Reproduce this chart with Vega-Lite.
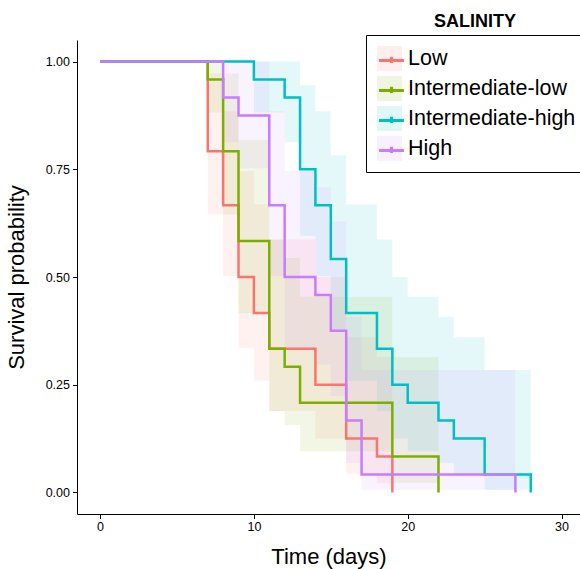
{
  "$schema": "https://vega.github.io/schema/vega-lite/v6.json",
  "width": 503,
  "height": 474,
  "autosize": {"type": "none"},
  "padding": {"left": 77, "top": 40, "right": 0, "bottom": 55},
  "background": "white",
  "config": {
    "view": {"stroke": null},
    "font": "Liberation Sans",
    "axis": {"grid": false}
  },
  "title": {
    "text": "SALINITY",
    "anchor": "start",
    "frame": "group",
    "dx": 357,
    "offset": 4,
    "fontSize": 18,
    "fontWeight": "bold",
    "font": "Liberation Sans",
    "color": "black"
  },
  "data": {
    "values": [
      {"group": "Low", "time": 0, "surv": 1, "lower": 1, "upper": 1},
      {"group": "Low", "time": 7, "surv": 0.7917, "lower": 0.6448, "upper": 0.972},
      {"group": "Low", "time": 8, "surv": 0.6667, "lower": 0.5024, "upper": 0.8847},
      {"group": "Low", "time": 9, "surv": 0.5, "lower": 0.3351, "upper": 0.746},
      {"group": "Low", "time": 10, "surv": 0.4167, "lower": 0.2595, "upper": 0.6689},
      {"group": "Low", "time": 11, "surv": 0.3333, "lower": 0.1893, "upper": 0.587},
      {"group": "Low", "time": 14, "surv": 0.25, "lower": 0.125, "upper": 0.4999},
      {"group": "Low", "time": 16, "surv": 0.125, "lower": 0.0434, "upper": 0.3603},
      {"group": "Low", "time": 18, "surv": 0.0833, "lower": 0.0221, "upper": 0.3141},
      {"group": "Low", "time": 19, "surv": 0, "lower": 0.0221, "upper": 0.3141},
      {"group": "Intermediate-low", "time": 0, "surv": 1, "lower": 1, "upper": 1},
      {"group": "Intermediate-low", "time": 7, "surv": 0.9583, "lower": 0.8816, "upper": 1},
      {"group": "Intermediate-low", "time": 8, "surv": 0.7917, "lower": 0.6448, "upper": 0.972},
      {"group": "Intermediate-low", "time": 9, "surv": 0.5833, "lower": 0.416, "upper": 0.818},
      {"group": "Intermediate-low", "time": 11, "surv": 0.3333, "lower": 0.1893, "upper": 0.587},
      {"group": "Intermediate-low", "time": 12, "surv": 0.2917, "lower": 0.1564, "upper": 0.544},
      {"group": "Intermediate-low", "time": 13, "surv": 0.2083, "lower": 0.0955, "upper": 0.4544},
      {"group": "Intermediate-low", "time": 19, "surv": 0.0833, "lower": 0.0221, "upper": 0.3141},
      {"group": "Intermediate-low", "time": 22, "surv": 0, "lower": 0.0221, "upper": 0.3141},
      {"group": "Intermediate-high", "time": 0, "surv": 1, "lower": 1, "upper": 1},
      {"group": "Intermediate-high", "time": 10, "surv": 0.9583, "lower": 0.8816, "upper": 1},
      {"group": "Intermediate-high", "time": 12, "surv": 0.9167, "lower": 0.8125, "upper": 1},
      {"group": "Intermediate-high", "time": 13, "surv": 0.75, "lower": 0.5953, "upper": 0.9449},
      {"group": "Intermediate-high", "time": 14, "surv": 0.6667, "lower": 0.5024, "upper": 0.8847},
      {"group": "Intermediate-high", "time": 15, "surv": 0.5417, "lower": 0.3749, "upper": 0.7826},
      {"group": "Intermediate-high", "time": 16, "surv": 0.4167, "lower": 0.2595, "upper": 0.6689},
      {"group": "Intermediate-high", "time": 18, "surv": 0.3333, "lower": 0.1893, "upper": 0.587},
      {"group": "Intermediate-high", "time": 19, "surv": 0.25, "lower": 0.125, "upper": 0.4999},
      {"group": "Intermediate-high", "time": 20, "surv": 0.2083, "lower": 0.0955, "upper": 0.4544},
      {"group": "Intermediate-high", "time": 22, "surv": 0.1667, "lower": 0.0681, "upper": 0.4077},
      {"group": "Intermediate-high", "time": 23, "surv": 0.125, "lower": 0.0434, "upper": 0.3603},
      {"group": "Intermediate-high", "time": 25, "surv": 0.0417, "lower": 0.0061, "upper": 0.2839},
      {"group": "Intermediate-high", "time": 28, "surv": 0, "lower": 0.0061, "upper": 0.2839},
      {"group": "High", "time": 0, "surv": 1, "lower": 1, "upper": 1},
      {"group": "High", "time": 8, "surv": 0.9167, "lower": 0.8125, "upper": 1},
      {"group": "High", "time": 9, "surv": 0.875, "lower": 0.7522, "upper": 1},
      {"group": "High", "time": 11, "surv": 0.6667, "lower": 0.5024, "upper": 0.8847},
      {"group": "High", "time": 12, "surv": 0.5, "lower": 0.3351, "upper": 0.746},
      {"group": "High", "time": 14, "surv": 0.4583, "lower": 0.2967, "upper": 0.7081},
      {"group": "High", "time": 15, "surv": 0.375, "lower": 0.2237, "upper": 0.6286},
      {"group": "High", "time": 16, "surv": 0.1667, "lower": 0.0681, "upper": 0.4077},
      {"group": "High", "time": 17, "surv": 0.0417, "lower": 0.0061, "upper": 0.2839},
      {"group": "High", "time": 27, "surv": 0, "lower": 0.0061, "upper": 0.2839}
    ]
  },
  "layer": [
    {
      "mark": {"type": "area", "interpolate": "step-after", "fillOpacity": 0.1, "strokeWidth": 0},
      "encoding": {
        "x": {
          "field": "time", "type": "quantitative",
          "scale": {"domain": [-1.5, 31.2], "nice": false, "zero": false},
          "axis": {
            "values": [0, 10, 20, 30],
            "title": "Time (days)",
            "titleFontSize": 22, "titleFontWeight": "normal", "titleColor": "black", "titlePadding": 13,
            "labelFontSize": 12.5, "labelColor": "black", "labelPadding": 2,
            "tickColor": "black", "tickSize": 4.5, "domainColor": "black", "domainWidth": 1, "tickWidth": 1
          }
        },
        "y": {
          "field": "lower", "type": "quantitative",
          "scale": {"domain": [-0.05, 1.05], "nice": false, "zero": false},
          "axis": {
            "values": [0, 0.25, 0.5, 0.75, 1],
            "format": ".2f",
            "title": "Survival probability",
            "titleFontSize": 22, "titleFontWeight": "normal", "titleColor": "black", "titlePadding": 17,
            "labelFontSize": 12.5, "labelColor": "black", "labelPadding": 3,
            "tickColor": "black", "tickSize": 4.5, "domainColor": "black", "domainWidth": 1, "tickWidth": 1
          }
        },
        "y2": {"field": "upper"},
        "fill": {
          "field": "group", "type": "nominal",
          "scale": {
            "domain": ["Low", "Intermediate-low", "Intermediate-high", "High"],
            "range": ["#F8766D", "#7CAE00", "#00BFC4", "#C77CFF"]
          },
          "legend": {
            "orient": "none", "legendX": 289, "legendY": -5, "title": null,
            "zindex": 1,
            "strokeColor": "black", "fillColor": "white", "padding": 11,
            "symbolType": "square", "symbolSize": 625, "symbolOpacity": 0.12, "symbolStrokeWidth": 0,
            "labelFontSize": 21.5, "labelColor": "black", "labelOffset": 6, "rowPadding": 5,
            "labelLimit": 300,
            "labelFont": "Liberation Sans"
          }
        }
      }
    },
    {
      "mark": {"type": "line", "interpolate": "step-after", "strokeWidth": 2.5},
      "encoding": {
        "x": {"field": "time", "type": "quantitative"},
        "y": {"field": "surv", "type": "quantitative"},
        "stroke": {
          "field": "group", "type": "nominal",
          "sort": ["Low", "Intermediate-low", "Intermediate-high", "High"],
          "scale": {
            "range": ["#F8766D", "#7CAE00", "#00BFC4", "#C77CFF"]
          },
          "legend": {
            "orient": "none", "legendX": 289, "legendY": -5, "title": null,
            "zindex": 2,
            "padding": 11,
            "symbolType": "M-1,0H1M0,-0.3V0.2", "symbolSize": 625, "symbolStrokeWidth": 3.2,
            "symbolFillColor": "transparent",
            "labelExpr": "''",
            "labelFontSize": 21.5, "labelOffset": 6, "rowPadding": 5,
            "labelFont": "Liberation Sans"
          }
        }
      }
    }
  ]
}
